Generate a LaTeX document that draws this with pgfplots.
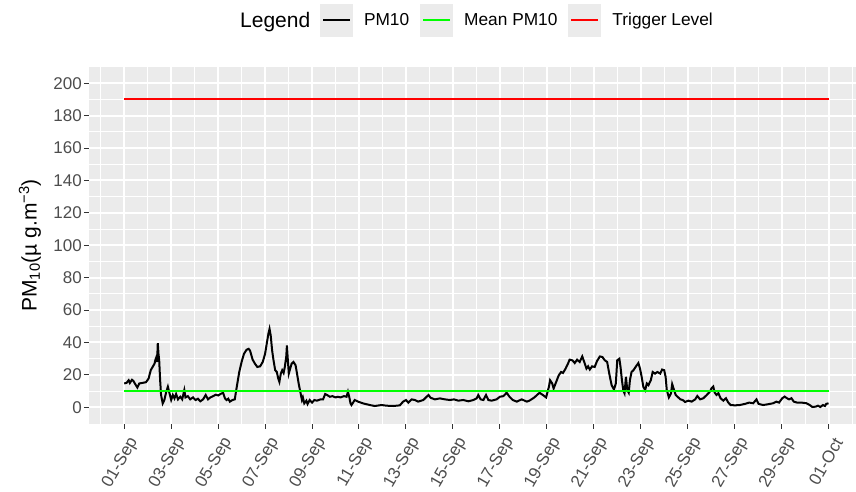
\documentclass[border=0pt]{standalone}
\usepackage{fontspec}
\setmainfont{Liberation Sans}
\usepackage{pgfplots}
\pgfplotsset{compat=1.18}
\definecolor{panelgrey}{HTML}{EBEBEB}
\definecolor{tickgrey}{HTML}{4D4D4D}
\definecolor{tickmark}{HTML}{333333}
\definecolor{ggreen}{HTML}{00FF00}
\definecolor{gred}{HTML}{FF0000}
\newcommand{\ticksize}{\fontsize{17}{19}\selectfont}
\newcommand{\legsize}{\fontsize{17.3}{19}\selectfont}
\newcommand{\titlesize}{\fontsize{21}{24}\selectfont}

\begin{document}
\begin{tikzpicture}
\begin{axis}[
  name=main,
  scale only axis,
  width=767pt, height=356.4pt,
  xmin=-1.5, xmax=31.17,
  ymin=-10, ymax=210,
  axis background/.style={fill=panelgrey},
  axis line style={draw=none},
  grid=both,
  major grid style={white, line width=2pt},
  minor grid style={white, line width=1pt},
  xtick={0,2,...,30},
  xticklabels={01-Sep,03-Sep,05-Sep,07-Sep,09-Sep,11-Sep,13-Sep,15-Sep,17-Sep,19-Sep,21-Sep,23-Sep,25-Sep,27-Sep,29-Sep,01-Oct},
  minor xtick={-1,1,...,31},
  ytick={0,20,...,200},
  minor ytick={10,30,...,190},
  tick align=outside,
  xtick pos=bottom, ytick pos=left,
  major tick length=5pt,
  minor tick length=0pt,
  tick style={tickmark, line width=1pt},
  /pgf/number format/assume math mode=true,
  yticklabel style={font=\ticksize, text=tickgrey, inner xsep=2pt},
  xticklabel style={xshift=11pt, yshift=-9pt, rotate=60, anchor=east, font=\ticksize, text=tickgrey, inner sep=2pt},
  ylabel={\titlesize PM\textsubscript{10}(µ g.m\textsuperscript{−3})},
  ylabel style={at={(axis description cs:-0.077,0.5)}, anchor=center},
  legend columns=-1,
  legend style={at={(0.3012,1.131)}, anchor=west, draw=none, fill=none,
    inner sep=0pt, outer sep=0pt, font=\legsize,
    nodes={inner sep=0pt, anchor=west},
    /tikz/every even column/.append style={column sep=11pt}},
  legend image code/.code={
    \fill[panelgrey, draw=none] (0pt,-16.5pt) rectangle (33pt,16.5pt);
    \draw (3pt,0pt) -- (30pt,0pt);
    \path (43pt,0pt);
  },
]
\addplot[draw=black, line width=2pt] coordinates {
(0,14.7) (0.1,15.1) (0.19,16.7) (0.24,15) (0.33,17) (0.39,16.3) (0.47,14.3) (0.56,12.2) (0.64,14.7) (0.79,15.1) (0.93,15.5) (1.04,17.8) (1.13,22.9) (1.21,24.9) (1.29,26.9) (1.33,29.4) (1.37,31) (1.4,28) (1.43,39.6) (1.46,33) (1.49,29) (1.53,16.7) (1.57,7.6) (1.64,2.4) (1.71,4.5) (1.79,9.6) (1.86,12.7) (1.93,8.6) (2.0,4.5) (2.07,7.6) (2.14,5.5) (2.21,8.2) (2.29,4.9) (2.39,6.5) (2.47,4.9) (2.56,10.6) (2.61,6.1) (2.71,6.9) (2.81,4.9) (2.93,6.1) (3.04,4.5) (3.14,5.3) (3.24,3.7) (3.36,4.9) (3.47,7.6) (3.57,4.9) (3.67,6.1) (3.79,6.9) (3.9,7.8) (4.0,7.3) (4.1,8.2) (4.21,9.0) (4.29,5.5) (4.36,4.5) (4.43,5.3) (4.5,3.5) (4.61,4.5) (4.71,4.9) (4.76,9.6) (4.83,15.7) (4.9,21.8) (5.0,28) (5.1,33) (5.21,35.5) (5.3,36.1)
(5.36,35) (5.47,29.4) (5.57,26.9) (5.67,24.9) (5.79,25.3) (5.9,28) (6.0,33) (6.07,39.2) (6.14,45.3) (6.19,48.4) (6.24,44.3) (6.3,35.1) (6.36,29) (6.43,22.9) (6.5,21.8) (6.56,17.8) (6.61,15.7) (6.67,20.8) (6.73,22.9) (6.79,21.2) (6.84,24.9) (6.9,31) (6.93,38.2) (6.97,29) (7.01,20.8) (7.07,23.9) (7.13,26.9) (7.21,28) (7.3,25.9) (7.36,20.8) (7.43,14.7) (7.5,9.6) (7.57,4.5) (7.61,6.1) (7.67,2.4) (7.76,4.1) (7.81,2.0) (7.9,4.5) (8.0,2.9) (8.1,4.5) (8.21,4.1) (8.36,4.9) (8.47,4.9) (8.56,8.2) (8.64,7.6) (8.76,6.5) (8.87,6.9) (9.0,6.1) (9.1,6.5) (9.21,6.1) (9.36,6.9) (9.47,6.5) (9.53,9.6) (9.59,6.1) (9.64,2.4)
(9.68,1.4) (9.82,4.5) (9.96,3.5) (10.18,2.4) (10.46,1.4) (10.67,0.8) (10.96,1.4) (11.17,1.0) (11.46,0.8) (11.74,1.2) (11.88,3.5) (12.0,4.5) (12.1,2.9) (12.24,4.9) (12.38,4.5) (12.52,3.5) (12.74,4.5) (12.88,6.5) (12.96,7.6) (13.05,5.9) (13.23,4.9) (13.45,5.5) (13.66,4.9) (13.87,4.5) (14.05,4.9) (14.23,4.1) (14.44,4.5) (14.66,3.7) (14.87,4.5) (15.01,5.5) (15.08,7.6) (15.18,4.9) (15.3,4.5) (15.41,7.6) (15.51,4.5) (15.65,4.1) (15.86,4.9) (16.0,6.5) (16.15,6.9) (16.29,9.0) (16.41,6.5) (16.55,4.5) (16.72,3.5) (16.93,4.9) (17.15,3.5)
(17.26,4.1) (17.47,6.1) (17.69,9.0) (17.83,7.6) (17.97,6.1) (18.09,12.7) (18.14,16.7) (18.23,14.7) (18.29,11.6) (18.4,15.7) (18.51,19.8) (18.61,21.8) (18.69,21.2) (18.8,23.9) (18.9,26.9) (18.97,29.4) (19.09,29) (19.19,27.3) (19.29,29.4) (19.4,28) (19.51,31.4) (19.61,27.3) (19.69,23.9) (19.76,25.3) (19.83,23.3) (19.93,25.3) (20.04,24.9) (20.14,28.6) (20.26,31.4) (20.37,31.0) (20.47,29) (20.57,28) (20.66,20.8) (20.76,13.7) (20.86,11.0) (20.94,14.7) (21.0,29) (21.09,30) (21.14,24.9) (21.2,16.7) (21.26,10.2) (21.31,8.6) (21.37,18.8) (21.43,10.6) (21.49,9.0) (21.54,16.7) (21.61,21.8) (21.69,22.9) (21.8,25.3) (21.9,27.3) (21.97,23.9) (22.04,18.8) (22.11,12.7) (22.19,10.6) (22.26,14.7) (22.33,13.7) (22.43,16.7) (22.51,21.8) (22.61,20.8) (22.71,21.8) (22.83,20.8) (22.91,23.3) (23.0,22.9) (23.06,18.8) (23.11,10.6) (23.2,6.1) (23.29,8.6) (23.34,14.3) (23.4,11.6) (23.49,7.6) (23.57,6.5) (23.69,4.9)
(23.79,4.5) (23.89,3.3) (24.03,4.1) (24.17,3.5) (24.32,4.9) (24.41,7.0) (24.53,4.9) (24.67,5.6) (24.81,7.6) (24.95,9.7) (25.02,11.8) (25.09,12.8) (25.15,9.1) (25.23,7.6) (25.31,8.7) (25.4,5.6) (25.52,4.1) (25.63,5.6) (25.73,2.9) (25.83,1.4) (26.01,1.2) (26.22,1.4) (26.44,2.1) (26.62,2.9) (26.79,2.5) (26.93,4.9) (27.02,2.1) (27.21,1.4) (27.43,1.9) (27.64,2.5) (27.78,3.5) (27.89,2.9) (28.03,5.6) (28.13,6.6) (28.23,5.6) (28.32,4.9) (28.42,5.6) (28.52,3.5) (28.66,2.9) (28.85,2.9) (29.06,2.5) (29.2,1.4) (29.31,0.2) (29.45,0.4) (29.55,1.0) (29.65,0.2) (29.76,1.4) (29.85,0.8) (29.9,2.1) (30.0,2.5)
};
\addlegendentry{PM10}
\addplot[draw=ggreen, line width=2pt] coordinates {(0,10) (30,10)};
\addlegendentry{Mean PM10}
\addplot[draw=gred, line width=2pt] coordinates {(0,190) (30,190)};
\addlegendentry{Trigger Level}
\end{axis}
\node[anchor=west, font=\titlesize, inner sep=0pt] at ([xshift=151pt,yshift=44.8pt]main.north west) {Legend};
\pgfresetboundingbox
\path[use as bounding box] ([xshift=-89pt,yshift=-68.5pt]main.south west) rectangle ([xshift=767pt,yshift=423.5pt]main.south west);
\end{tikzpicture}
\end{document}
